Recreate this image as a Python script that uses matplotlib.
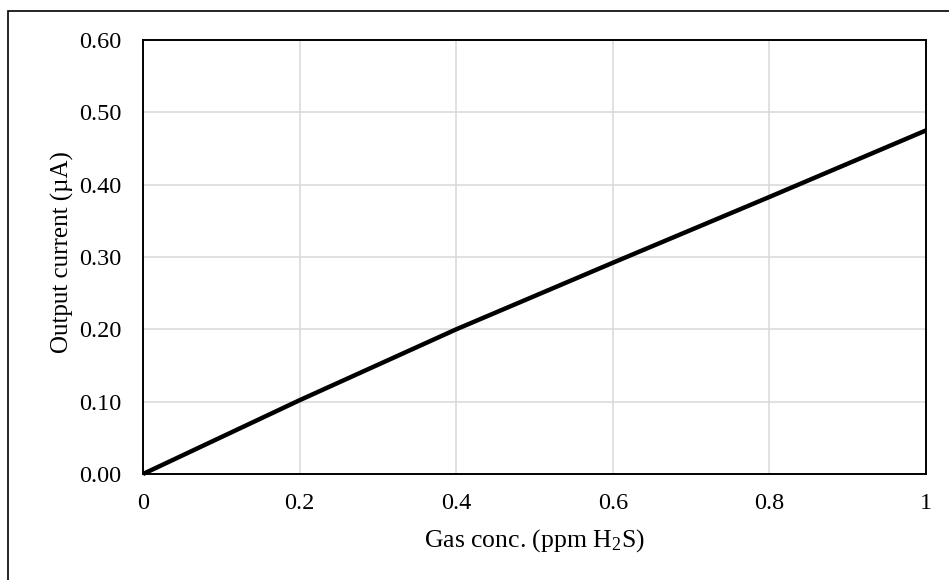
import matplotlib
matplotlib.use("Agg")
import matplotlib.pyplot as plt
from matplotlib.patches import Rectangle

gas_conc = [0.0, 0.2, 0.4, 0.6, 0.8, 1.0]
output_current = [0.0, 0.102, 0.200, 0.292, 0.383, 0.475]
x_ticks = [0, 0.2, 0.4, 0.6, 0.8, 1]
x_tick_labels = ["0", "0.2", "0.4", "0.6", "0.8", "1"]
y_ticks = [0.0, 0.1, 0.2, 0.3, 0.4, 0.5, 0.6]
y_tick_labels = ["0.00", "0.10", "0.20", "0.30", "0.40", "0.50", "0.60"]

plt.rcParams['font.family'] = ['Liberation Serif', 'DejaVu Serif']
plt.rcParams['mathtext.fontset'] = 'custom'
plt.rcParams['mathtext.rm'] = 'Liberation Serif'
plt.rcParams['mathtext.it'] = 'Liberation Serif'
plt.rcParams['mathtext.bf'] = 'Liberation Serif:bold'

W, H = 949, 580
fig = plt.figure(figsize=(W / 100, H / 100), dpi=100)
ax = fig.add_axes([143 / W, 1 - 474 / H, (926 - 143) / W, (474 - 40) / H])

ax.plot(gas_conc, output_current, color='black', linewidth=3.2, solid_capstyle='butt', clip_on=False, zorder=3)

ax.set_xlim(0, 1)
ax.set_ylim(0, 0.6)
ax.set_xticks(x_ticks)
ax.set_xticklabels(x_tick_labels)
ax.set_yticks(y_ticks)
ax.set_yticklabels(y_tick_labels)
ax.tick_params(axis='both', length=0, labelsize=17.5, colors='black')
ax.tick_params(axis='y', pad=15.5)
ax.tick_params(axis='x', pad=14)
ax.grid(True, color='#d9d9d9', linewidth=1.1)
ax.set_axisbelow(True)
for s in ax.spines.values():
    s.set_color('black')
    s.set_linewidth(1.4)

ax.set_xlabel("Gas conc. (ppm H$_{\\mathrm{2}}$S)", fontsize=18.5, labelpad=9)
ax.set_ylabel("Output current (\u00b5A)", fontsize=18)
ax.yaxis.set_label_coords((74 - 143) / 783, (474 - 252) / 434)

fig.patches.append(Rectangle((8 / W, -0.1), 2, (H - 11) / H + 0.1, transform=fig.transFigure,
                             fill=False, edgecolor='black', linewidth=1.2, clip_on=False))

fig.savefig("out.png", dpi=100)
